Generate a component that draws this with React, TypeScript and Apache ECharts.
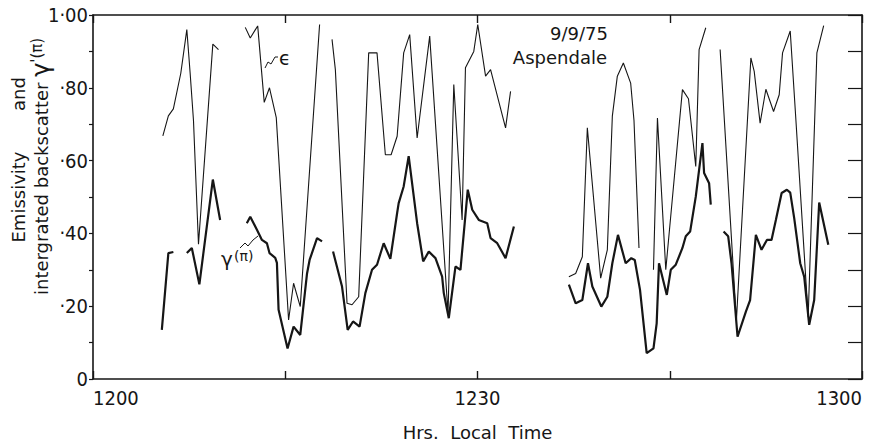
import React, { useEffect, useRef } from "react";
import * as echarts from "echarts";

// Minutes after 1200 local time, null marks a break in the trace
const epsMinutes = [
  5.45, 5.88, 6.27, 6.85, 7.32, 7.58, 7.84, 8.23, 9.35, 9.79, null,
  11.88, 12.27, 12.85, 13.36, 13.77, 14.3, 15.26, 15.65, 16.17, 17.68, null,
  18.65, 18.91, 19.82, 20.21, 20.73, 21.51, 22.16, 22.81, 23.26, 23.73, 24.24, 24.71, 25.29, 26.27, 26.46, 27.7, 28.15, 28.8, 29.06, 29.71, 30.02, 30.63, 31.02, 32.19, 32.58, null,
  37.13, 37.66, 38.18, 38.57, 39.61, 40.13, 40.52, 40.91, 41.38, 41.95, 42.21, 42.6, null,
  43.73, 44.04, 44.69, 45.99, 46.46, 47.03, 47.29, 47.81, null,
  48.93, 50.2, 51.33, 51.59, 52.05, 52.5, 53.1, 53.54, 53.8, 54.4, 54.84, 55.8, 56.48, 57.01,
];
// Emissivity
const epsValues = [
  0.668, 0.723, 0.742, 0.84, 0.96, 0.84, 0.71, 0.37, 0.92, 0.905, null,
  0.966, 0.937, 0.97, 0.76, 0.8, 0.718, 0.162, 0.263, 0.199, 0.974, null,
  0.933, 0.85, 0.208, 0.204, 0.226, 0.896, 0.896, 0.616, 0.616, 0.667, 0.896, 0.946, 0.662, 0.942, 0.841, 0.18, 0.809, 0.437, 0.855, 0.9, 0.974, 0.832, 0.85, 0.69, 0.79, null,
  0.281, 0.29, 0.336, 0.69, 0.277, 0.355, 0.722, 0.832, 0.868, 0.813, 0.71, 0.36, null,
  0.3, 0.717, 0.3, 0.795, 0.77, 0.584, 0.905, 0.965, null,
  0.905, 0.16, 0.882, 0.845, 0.703, 0.796, 0.735, 0.781, 0.896, 0.956, 0.713, 0.17, 0.896, 0.971,
];

const gamMinutes = [
  5.37, 5.88, 6.27, null,
  7.32, 7.71, 8.3, 9.35, 9.92, null,
  12.0, 12.27, 12.79, 13.18, 13.57, 13.77, 14.22, 14.35, 14.48, 15.18, 15.65, 16.17, 16.7, 16.9, 17.48, 17.87, null,
  18.73, 19.43, 19.87, 20.29, 20.8, 21.25, 21.77, 22.16, 22.68, 23.2, 23.73, 23.85, 24.24, 24.63, 25.29, 25.76, 26.2, 26.72, 27.24, 27.37, 27.76, 28.28, 28.67, 29.24, 29.59, 30.1, 30.76, 31.02, 31.54, 32.19, 32.84, null,
  37.13, 37.66, 38.18, 38.62, 38.96, 39.66, 40.13, 40.52, 40.96, 41.56, 42.0, 42.27, 42.68, 43.2, 43.73, 43.98, 44.16, 44.77, 45.08, 45.47, 45.99, 46.25, 46.59, 47.03, 47.55, 47.68, 48.07, 48.2, null,
  49.2, 49.56, 49.82, 50.29, 50.94, 51.27, 51.72, 52.16, 52.58, 52.94, 53.28, 53.73, 54.14, 54.4, 54.71, 55.18, 55.49, 55.88, 56.27, 56.66, 57.37,
];
// Integrated backscatter gamma'(pi)
const gamValues = [
  0.135, 0.346, 0.349, null,
  0.346, 0.36, 0.26, 0.548, 0.437, null,
  0.428, 0.446, 0.41, 0.382, 0.373, 0.346, 0.333, 0.319, 0.19, 0.084, 0.144, 0.121, 0.29, 0.327, 0.387, 0.378, null,
  0.35, 0.254, 0.135, 0.158, 0.144, 0.236, 0.3, 0.314, 0.373, 0.33, 0.456, 0.483, 0.529, 0.612, 0.428, 0.323, 0.35, 0.332, 0.281, 0.236, 0.167, 0.309, 0.3, 0.52, 0.465, 0.437, 0.428, 0.387, 0.373, 0.332, 0.419, null,
  0.259, 0.208, 0.217, 0.318, 0.254, 0.199, 0.226, 0.318, 0.396, 0.318, 0.332, 0.327, 0.245, 0.071, 0.084, 0.153, 0.318, 0.231, 0.3, 0.314, 0.36, 0.392, 0.405, 0.501, 0.648, 0.566, 0.538, 0.479, null,
  0.405, 0.392, 0.318, 0.116, 0.185, 0.217, 0.396, 0.355, 0.382, 0.382, 0.437, 0.511, 0.52, 0.512, 0.442, 0.318, 0.281, 0.149, 0.217, 0.485, 0.369,
];

const yTickValues = [0, 0.2, 0.4, 0.6, 0.8, 1.0];
const yTickLabels = ["0", "·20", "·40", "·60", "·80", "1·00"];
const xTickMinutes = [0, 30, 60];
const xTickLabels = ["1200", "1230", "1300"];

const INK = "#161616";
const SANS = "'DejaVu Sans', 'Liberation Sans', sans-serif";
const NARROW = "'Liberation Sans Narrow', 'DejaVu Sans Condensed', 'Liberation Sans', sans-serif";

function segments(ts: (number | null)[], vs: (number | null)[]) {
  const out: number[][][] = [];
  let cur: number[][] = [];
  ts.forEach((t, i) => {
    const v = vs[i];
    if (t === null || v === null) {
      if (cur.length) out.push(cur);
      cur = [];
    } else cur.push([t, v]);
  });
  if (cur.length) out.push(cur);
  return out;
}

export default function App() {
  const ref = useRef<HTMLDivElement>(null);
  useEffect(() => {
    document.body.style.margin = "0";
    const chart = echarts.init(ref.current!, null, { renderer: "svg" });
    const series: any[] = [];
    segments(epsMinutes, epsValues).forEach((seg) =>
      series.push({
        type: "line", data: seg, showSymbol: false, silent: true,
        lineStyle: { color: INK, width: 1.1 },
      })
    );
    segments(gamMinutes, gamValues).forEach((seg) =>
      series.push({
        type: "line", data: seg, showSymbol: false, silent: true,
        lineStyle: { color: INK, width: 2.2 },
      })
    );
    const axisLine = { show: true, onZero: false, lineStyle: { color: INK, width: 1.6 } };
    chart.setOption({
      animation: false,
      backgroundColor: "#ffffff",
      grid: { left: 93, right: 7, top: 15, bottom: 67 },
      xAxis: [
        {
          type: "value", min: 0, max: 60, interval: 15, position: "bottom",
          axisLine, splitLine: { show: false },
          axisTick: { show: true, inside: true, length: 8, lineStyle: { color: INK, width: 1.4 } },
          axisLabel: {
            color: INK, fontFamily: NARROW, fontSize: 20, margin: 9,
            alignMinLabel: "left", alignMaxLabel: "right",
            formatter: (v: number) => {
              const i = xTickMinutes.findIndex((m) => Math.abs(m - v) < 1e-6);
              return i >= 0 ? xTickLabels[i] : "";
            },
          },
          name: "Hrs.\u00a0\u00a0Local\u00a0\u00a0Time",
          nameLocation: "middle", nameGap: 44,
          nameTextStyle: { color: INK, fontFamily: SANS, fontSize: 18 },
        },
        {
          type: "value", min: 0, max: 60, interval: 15, position: "top",
          axisLine, splitLine: { show: false }, axisLabel: { show: false },
          axisTick: { show: true, inside: true, length: 8, lineStyle: { color: INK, width: 1.4 } },
        },
      ],
      yAxis: [
        {
          type: "value", min: 0, max: 1, interval: 0.1, position: "left",
          axisLine, splitLine: { show: false },
          axisTick: { show: true, inside: false, length: 4, lineStyle: { color: INK, width: 1.2 } },
          axisLabel: {
            color: INK, fontFamily: NARROW, fontSize: 20, margin: 5,
            formatter: (v: number) => {
              const i = yTickValues.findIndex((t) => Math.abs(t - v) < 1e-6);
              return i >= 0 ? yTickLabels[i] : "";
            },
          },
        },
        {
          type: "value", min: 0, max: 1, interval: 0.1, position: "right",
          axisLine, splitLine: { show: false }, axisLabel: { show: false },
          axisTick: { show: true, inside: true, length: 14, lineStyle: { color: INK, width: 1.2 } },
        },
      ],
      series,
      graphic: [
        {
          type: "text", x: 18, y: 197, rotation: Math.PI / 2,
          style: { text: "Emissivity", fill: INK, font: `18px ${SANS}`, align: "center", verticalAlign: "middle" },
        },
        {
          type: "text", x: 18, y: 94, rotation: Math.PI / 2,
          style: { text: "and", fill: INK, font: `18px ${SANS}`, align: "center", verticalAlign: "middle" },
        },
        {
          type: "text", x: 41, y: 295, rotation: Math.PI / 2,
          style: {
            text: "intergrated backscatter {g|γ}{p|'(π)}",
            fill: INK, font: `18px ${SANS}`, align: "left", verticalAlign: "middle",
            rich: {
              g: { fontSize: 24, fontFamily: SANS, fill: INK },
              p: { fontSize: 15, fontFamily: SANS, fill: INK, verticalAlign: "top" },
            },
          },
        },
        {
          type: "text", x: 608, y: 33,
          style: { text: "9/9/75", fill: INK, font: `18px ${SANS}`, align: "right", verticalAlign: "middle" },
        },
        {
          type: "text", x: 607, y: 57,
          style: { text: "Aspendale", fill: INK, font: `18px ${SANS}`, align: "right", verticalAlign: "middle" },
        },
        {
          type: "polyline",
          shape: { points: [[265, 68], [268, 62], [271, 64], [275, 57], [278, 57]] },
          style: { stroke: INK, lineWidth: 1, fill: null },
        },
        {
          type: "text", x: 279, y: 58,
          style: { text: "ϵ", fill: INK, font: `19px ${SANS}`, align: "left", verticalAlign: "middle" },
        },
        {
          type: "polyline",
          shape: { points: [[240, 248], [245, 243], [248, 246], [253, 240], [258, 236]] },
          style: { stroke: INK, lineWidth: 1, fill: null },
        },
        {
          type: "text", x: 221, y: 259,
          style: { text: "γ", fill: INK, font: `20px ${SANS}`, align: "left", verticalAlign: "middle" },
        },
        {
          type: "text", x: 234, y: 256,
          style: { text: "(π)", fill: INK, font: `14px ${SANS}`, align: "left", verticalAlign: "middle" },
        },
      ],
    });
    return () => chart.dispose();
  }, []);
  return <div ref={ref} style={{ width: 869, height: 446 }} />;
}
